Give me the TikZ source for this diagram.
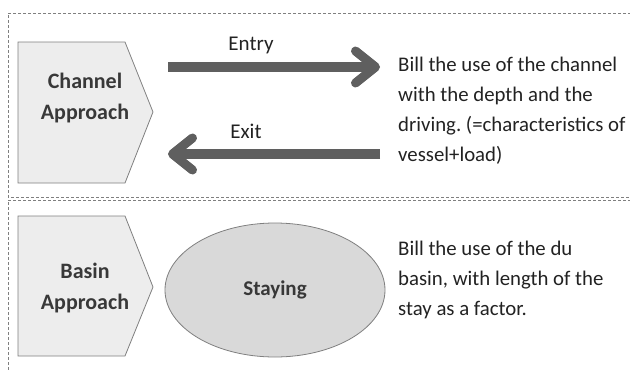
\documentclass[tikz,border=0pt]{standalone}
\usepackage{fontspec}
\setmainfont{Carlito}
\usetikzlibrary{arrows.meta,shapes.geometric}
\definecolor{txt}{HTML}{222222}
\definecolor{arr}{HTML}{5F5F5F}
\definecolor{chev}{HTML}{EDEDED}
\definecolor{ell}{HTML}{D9D9D9}
\definecolor{edge}{HTML}{7F7F7F}
\frenchspacing
\tikzset{
  frame/.style={draw=edge, dash pattern=on 3pt off 2pt, line width=0.7pt},
  chevron/.style={draw=edge, fill=chev, line width=0.8pt},
  chevtext/.style={font=\fontsize{22}{31}\selectfont\bfseries, text=txt!90, align=center},
  desc/.style={font=\fontsize{20.8}{30}\selectfont, text=txt, align=left, anchor=north west, inner sep=0pt},
  bigarrow/.style={draw=arr, line width=10pt, -{Straight Barb[length=20pt, width=32pt, line width=9pt, round]}},
  arrlabel/.style={font=\fontsize{21}{24}\selectfont, text=txt}
}
\begin{document}
\begin{tikzpicture}[x=1pt,y=-1pt]
\useasboundingbox (0,0) rectangle (630,370);
% frames
\draw[frame] (631,13) -- (8,13) -- (8,197) -- (631,197);
\draw[frame] (631,200) -- (8,200) -- (8,371);
% chevrons
\draw[chevron] (18,42) -- (125,42) -- (153,112) -- (125,183) -- (18,183) -- cycle;
\node[chevtext] (ca) at (85,98) {Channel\\Approach};
\draw[chevron] (18,216) -- (125,216) -- (153,287) -- (125,356) -- (18,356) -- cycle;
\node[chevtext] (ba) at (85,288) {Basin\\Approach};
% arrows
\coordinate (e1) at (168,67);
\coordinate (e2) at (380,67);
\coordinate (x1) at (380,154);
\coordinate (x2) at (168,154);
\draw[bigarrow] (e1) -- (e2);
\draw[bigarrow] (x1) -- (x2);
\node[arrlabel] (entry) at (251,45) {Entry};
\node[arrlabel] (exit) at (246,131) {Exit};
% ellipse
\node[ellipse, draw=edge, fill=ell, line width=0.8pt, minimum width=220pt, minimum height=134pt,
  font=\fontsize{21}{24}\selectfont\bfseries, text=txt!90] (stay) at (275,290) {Staying};
% descriptions
\node[desc] (d1) at (398,57) {Bill the use of the channel\\with the depth and the\\driving. (=characteristics of\\vessel+load)};
\node[desc] (d2) at (398,241) {Bill the use of the du\\basin, with length of the\\stay as a factor.};
\end{tikzpicture}
\end{document}
